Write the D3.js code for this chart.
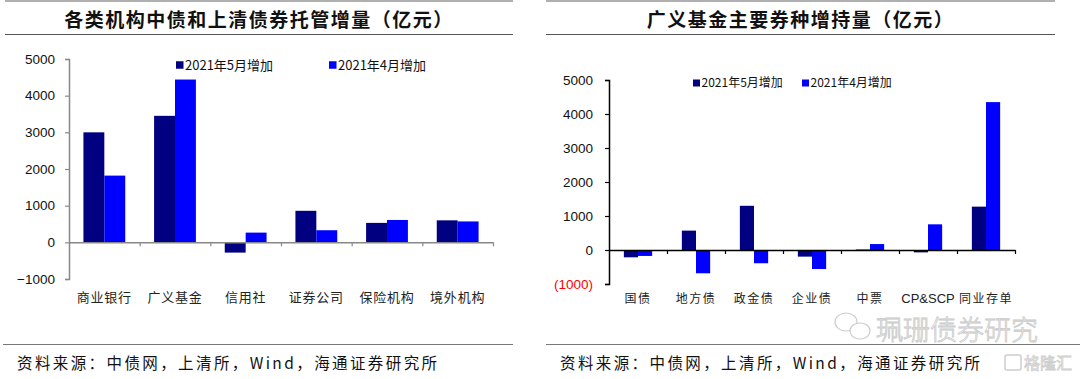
<!DOCTYPE html>
<html>
<head>
<meta charset="utf-8">
<script src="https://cdn.jsdelivr.net/npm/d3@7"></script>
<style>
body { margin: 0; background: #fff; }
svg { display: block; }
</style>
</head>
<body>
<script>
// left chart: custody increase by institution
var leftCats = ["商业银行", "广义基金", "信用社", "证券公司", "保险机构", "境外机构"];
var leftMay = [3000, 3450, -280, 860, 530, 600];
var leftApr = [1820, 4440, 265, 330, 610, 570];
var leftTicks = [-1000, 0, 1000, 2000, 3000, 4000, 5000];

// right chart: broad fund holdings by bond type
var rightCats = ["国债", "地方债", "政金债", "企业债", "中票", "CP&SCP", "同业存单"];
var rightMay = [-215, 570, 1300, -195, 15, -70, 1275];
var rightApr = [-175, -685, -390, -560, 175, 755, 4350];
var rightTicks = [-1000, 0, 1000, 2000, 3000, 4000, 5000];

var seriesNames = ["2021年5月增加", "2021年4月增加"];
var seriesColors = ["#000080", "#0000ff"];

var W = 1080, H = 379;
var cjk = '"Noto Sans CJK SC", "Noto Sans", sans-serif';
var latin = '"Liberation Sans", Arial, sans-serif';

var svg = d3.select("body").append("svg")
    .attr("width", W)
    .attr("height", H);

function draw_frame(x0, x1, title, footX0, footX1, srcX)
{
    // top gray rule
    svg.append("line")
	.attr("x1", x0).attr("x2", x1)
	.attr("y1", 1).attr("y2", 1)
	.attr("stroke", "#b0b0b0").attr("stroke-width", 2);

    svg.append("text")
	.attr("x", (x0 + x1)/2)
	.attr("y", 27)
	.attr("text-anchor", "middle")
	.attr("font-family", cjk)
	.attr("font-weight", "bold")
	.attr("font-size", "19px")
	.attr("letter-spacing", "1.5px")
	.attr("fill", "#111")
	.text(title);

    svg.append("line")
	.attr("x1", x0).attr("x2", x1)
	.attr("y1", 34.5).attr("y2", 34.5)
	.attr("stroke", "#555").attr("stroke-width", 1);

    svg.append("line")
	.attr("x1", footX0).attr("x2", footX1)
	.attr("y1", 344.5).attr("y2", 344.5)
	.attr("stroke", "#777").attr("stroke-width", 1.2);

    svg.append("text")
	.attr("x", srcX)
	.attr("y", 369)
	.attr("font-family", cjk)
	.attr("font-size", "15.5px")
	.attr("letter-spacing", "2.4px")
	.attr("fill", "#111")
	.text("资料来源：中债网，上清所，Wind，海通证券研究所");
}

function draw_chart(opt)
{
    var y = d3.scaleLinear()
	.domain([-1000, 5000])
	.range([opt.yBottom, opt.yTop]);

    var x0 = d3.scaleBand()
	.domain(opt.cats)
	.range([opt.xLeft, opt.xRight])
	.paddingInner(0).paddingOuter(0);

    var x1 = d3.scaleBand()
	.domain([0, 1])
	.range([0, x0.bandwidth()])
	.paddingInner(0)
	.paddingOuter(opt.outer);

    var g = svg.append("g");

    // bars
    [opt.may, opt.apr].forEach(function(vals, s) {
	g.selectAll(null)
	    .data(vals)
	    .enter().append("rect")
	    .attr("x", function(d, i) { return x0(opt.cats[i]) + x1(s); })
	    .attr("y", function(d) { return y(Math.max(0, d)); })
	    .attr("width", x1.bandwidth())
	    .attr("height", function(d) { return Math.abs(y(d) - y(0)); })
	    .attr("fill", seriesColors[s]);
    });

    // y axis
    var yAxis = g.append("g")
	.attr("transform", "translate(" + opt.xLeft + ",0)")
	.call(d3.axisLeft(y).tickValues(opt.ticks).tickSizeOuter(0)
	      .tickSize(4).tickPadding(opt.tickPad).tickFormat(opt.fmt));
    yAxis.select(".domain").attr("stroke", opt.axisColor).attr("stroke-width", 1.5);
    yAxis.selectAll(".tick line").attr("stroke", opt.axisColor).attr("stroke-width", 1.2);
    yAxis.selectAll(".tick text")
	.attr("font-family", latin)
	.attr("font-size", "13.5px")
	.attr("fill", function(d) { return (opt.redNeg && d < 0) ? "#ff0000" : "#111"; });

    // x axis at zero with ticks between categories
    var xi = d3.scaleLinear()
	.domain([0, opt.cats.length])
	.range([opt.xLeft, opt.xRight]);
    var xAxis = g.append("g")
	.attr("transform", "translate(0," + y(0) + ")")
	.call(d3.axisBottom(xi).ticks(opt.cats.length).tickSize(4)
	      .tickSizeOuter(0).tickFormat(""));
    xAxis.select(".domain").attr("stroke", opt.axisColor).attr("stroke-width", 1.5);
    xAxis.selectAll(".tick line").attr("stroke", opt.axisColor).attr("stroke-width", 1.2);
    xAxis.selectAll(".tick").filter(function(d) { return d === 0; }).remove();

    // category labels
    var isLatin = function(d) { return /^[A-Za-z&]+$/.test(d); };
    g.selectAll(null)
	.data(opt.cats)
	.enter().append("text")
	.attr("x", function(d) { return x0(d) + x0.bandwidth()/2; })
	.attr("y", opt.labelY)
	.attr("text-anchor", "middle")
	.attr("font-family", function(d) { return isLatin(d) ? latin : cjk; })
	.attr("font-size", function(d) { return isLatin(d) ? "13px" : opt.labelSize; })
	.attr("letter-spacing", function(d) { return isLatin(d) ? "0px" : opt.labelSpacing; })
	.attr("fill", "#222")
	.text(function(d) { return d; });

    // legend
    seriesNames.forEach(function(name, s) {
	var lx = opt.legendX[s];
	g.append("rect")
	    .attr("x", lx)
	    .attr("y", opt.legendY - opt.sq/2)
	    .attr("width", opt.sq)
	    .attr("height", opt.sq)
	    .attr("fill", seriesColors[s]);
	g.append("text")
	    .attr("x", lx + opt.sq + 1.5)
	    .attr("y", opt.legendY + opt.legSize*0.36)
	    .attr("font-family", cjk)
	    .attr("font-size", opt.legSize + "px")
	    .attr("fill", "#111")
	    .text(name);
    });
}

draw_frame(5, 513, "各类机构中债和上清债券托管增量（亿元）", 3, 513, 17);
draw_frame(546, 1055, "广义基金主要券种增持量（亿元）", 546, 1080, 560);

draw_chart({
    cats: leftCats, may: leftMay, apr: leftApr, ticks: leftTicks,
    xLeft: 69, xRight: 493, yTop: 59, yBottom: 279,
    outer: 0.69, tickPad: 10, axisColor: "#888",
    fmt: d3.format("d"), redNeg: false,
    labelY: 302, labelSize: "13px", labelSpacing: "0.8px",
    legendX: [176, 329], legendY: 65, sq: 7.5, legSize: 13
});

draw_chart({
    cats: rightCats, may: rightMay, apr: rightApr, ticks: rightTicks,
    xLeft: 609, xRight: 1015, yTop: 80, yBottom: 284,
    outer: 1.05, tickPad: 12, axisColor: "#000",
    fmt: function(d) { return d < 0 ? "(" + Math.abs(d) + ")" : d; }, redNeg: true,
    labelY: 303, labelSize: "12px", labelSpacing: "1.5px",
    legendX: [693, 802], legendY: 83, sq: 7, legSize: 12
});

// watermarks
var wm = svg.append("g").attr("opacity", 0.9);
wm.append("ellipse").attr("cx", 846).attr("cy", 322).attr("rx", 11).attr("ry", 9)
    .attr("fill", "#fff").attr("stroke", "#c8c8c8").attr("stroke-width", 1.2);
wm.append("ellipse").attr("cx", 860).attr("cy", 331).attr("rx", 10).attr("ry", 8)
    .attr("fill", "#fff").attr("stroke", "#c8c8c8").attr("stroke-width", 1.2);
wm.append("text")
    .attr("x", 876).attr("y", 340)
    .attr("font-family", cjk)
    .attr("font-size", "27px")
    .attr("font-weight", 300)
    .attr("fill", "none")
    .attr("stroke", "#c4c4c4")
    .attr("stroke-width", 0.8)
    .text("珮珊债券研究");
wm.append("rect").attr("x", 1005).attr("y", 355).attr("width", 16).attr("height", 15)
    .attr("rx", 2).attr("fill", "none").attr("stroke", "#c8c8c8").attr("stroke-width", 1.5);
wm.append("text")
    .attr("x", 1024).attr("y", 369)
    .attr("font-family", cjk)
    .attr("font-size", "16px")
    .attr("fill", "none")
    .attr("stroke", "#c8c8c8")
    .attr("stroke-width", 0.8)
    .text("格隆汇");
</script>
</body>
</html>
